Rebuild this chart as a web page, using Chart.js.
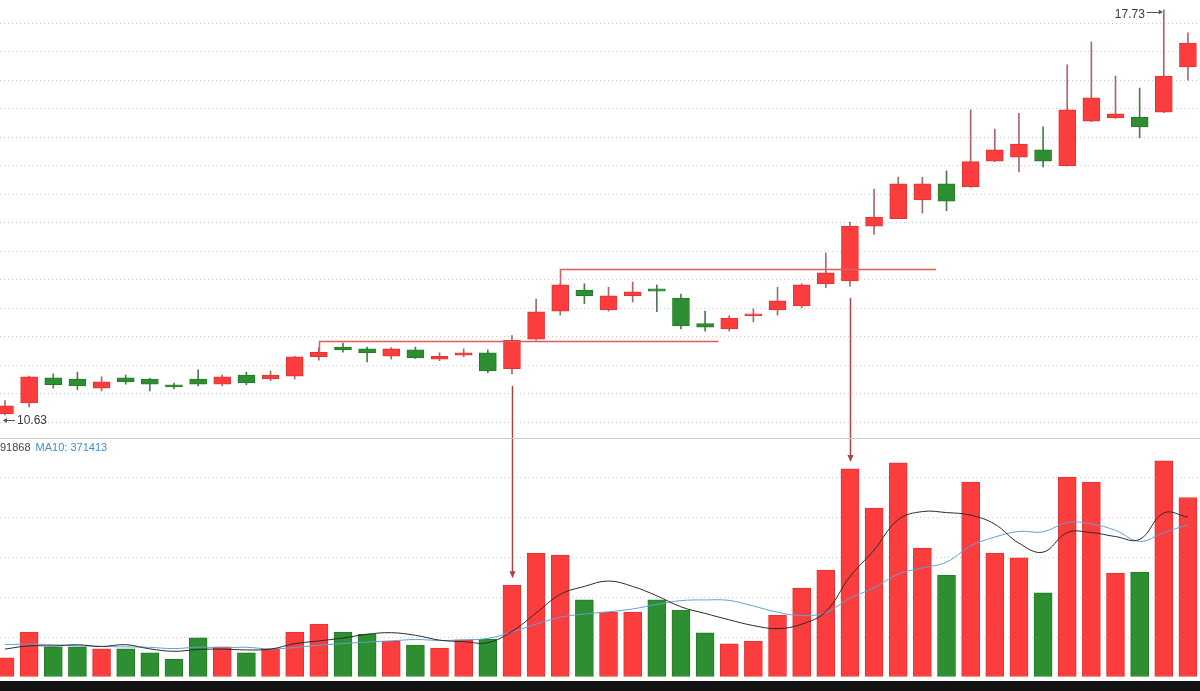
<!DOCTYPE html>
<html><head><meta charset="utf-8">
<script src="https://cdn.jsdelivr.net/npm/chart.js@4.4.1/dist/chart.umd.min.js"></script>
<style>
html,body{margin:0;padding:0;background:#fff;width:1200px;height:691px;overflow:hidden;font-family:"Liberation Sans",Arial,sans-serif;}
#wrap{position:relative;width:1200px;height:691px;overflow:hidden;}
#priceC{position:absolute;left:0;top:0;}
#volC{position:absolute;left:0;top:438px;}
#sep{position:absolute;left:0;top:438px;width:1200px;height:1px;background:#c9c9c9;}
#bottom{position:absolute;left:0;top:681px;width:1200px;height:10px;background:#121212;}
.lbl{position:absolute;font-size:12px;color:#3a3a3a;white-space:nowrap;line-height:12px;}
#maText{position:absolute;left:0;top:441px;font-size:11px;line-height:12px;white-space:nowrap;}
#maText .v5{color:#444;}
#maText .v10{color:#3d8fd1;margin-left:5px;}
</style></head>
<body>
<div id="wrap">
  <canvas id="priceC" width="1200" height="438"></canvas>
  <canvas id="volC" width="1200" height="239"></canvas>
  <div id="sep"></div>
  <div id="maText"><span class="v5" id="ma5Txt"></span><span class="v10" id="ma10Txt"></span></div>
  <span class="lbl" id="lowLbl"></span>
  <span class="lbl" id="highLbl"></span>
  <div id="bottom"></div>
</div>
<script>
// ---------- data ----------
const opens  = [10.65,10.84,11.28,11.26,11.10,11.28,11.26,11.16,11.26,11.17,11.33,11.26,11.31,11.65,11.82,11.79,11.66,11.77,11.61,11.68,11.72,11.44,11.96,12.45,12.82,12.47,12.72,12.84,12.68,12.23,12.14,12.37,12.47,12.54,12.93,12.98,13.94,14.07,14.40,14.68,14.63,15.08,15.15,15.28,15.00,15.78,15.84,15.85,15.94,16.73];
const highs  = [10.88,11.31,11.35,11.38,11.30,11.33,11.27,11.19,11.42,11.33,11.38,11.40,11.66,11.81,11.89,11.82,11.81,11.82,11.72,11.79,11.77,12.02,12.66,12.94,12.93,12.87,12.96,12.91,12.75,12.45,12.37,12.49,12.87,12.93,13.47,14.01,14.59,14.80,14.80,14.91,15.98,15.64,15.92,15.68,16.77,17.17,16.57,16.36,17.73,17.33];
const lows   = [10.63,10.77,11.10,11.07,11.05,11.17,11.05,11.09,11.14,11.14,11.16,11.23,11.26,11.59,11.73,11.56,11.61,11.62,11.58,11.65,11.37,11.35,11.94,12.38,12.58,12.45,12.61,12.44,12.14,12.10,12.10,12.26,12.38,12.51,12.86,12.89,13.80,14.07,14.17,14.21,14.62,15.07,14.89,14.98,14.99,15.77,15.83,15.49,15.93,16.50];
const closes = [10.79,11.30,11.16,11.14,11.21,11.21,11.17,11.12,11.17,11.30,11.19,11.33,11.65,11.73,11.77,11.72,11.79,11.63,11.66,11.72,11.40,11.94,12.44,12.91,12.72,12.72,12.79,12.80,12.19,12.17,12.33,12.40,12.63,12.91,13.12,13.94,14.10,14.68,14.68,14.38,15.07,15.28,15.38,15.08,15.98,16.19,15.91,15.68,16.57,17.15];
const volumes = [47000,110000,74000,74000,69000,69000,59000,44000,96000,74000,59000,69000,110000,130000,110000,105000,88000,78000,71000,91000,93000,225000,304000,299000,189000,159000,159000,189000,164000,108000,81000,88000,152000,218000,262000,510000,414000,525000,316000,250000,478000,304000,292000,206000,490000,478000,255000,257000,530000,440000];
// volumes of the bars just before the visible window (estimated from the MA lines at the left edge)
const prevVolumes = [95000,90000,100000,85000,80000,70000,75000,60000,90000];
const ma5Label = "91868";
const ma10Label = "MA10: 371413";
// annotation lines (breakout levels) and arrows
const levelStart = [13, 23];
const levelEnd   = [29.55, 38.57];
const levelPrice = [11.93, 13.19];
const arrowIdx   = [21, 35];

// ---------- helpers ----------
const N = opens.length;
const idx = [...Array(N).keys()];
const isUp = i => closes[i] >= opens[i];
const RED='#fb3d3d', RED_B='#e03434', GREEN='#2e8f32', GREEN_B='#247a27';
const WICK_R='#a56a6e', WICK_G='#4d7a4f';
function movingAvg(vals, prev, n){
  const all = prev.concat(vals);
  return vals.map((_,i)=>{ const end=prev.length+i; let s=0; for(let k=end-n+1;k<=end;k++) s+=all[k]; return s/n; });
}
const ma5 = movingAvg(volumes, prevVolumes, 5);
const ma10 = movingAvg(volumes, prevVolumes, 10);

const X_MIN = -0.207, X_MAX = 49.5;
const xScale = {type:'linear', min:X_MIN, max:X_MAX, offset:false, display:false, grid:{offset:false}};

function arrowLine(ctx, x, y0, y1){
  ctx.beginPath(); ctx.moveTo(x,y0); ctx.lineTo(x,y1); ctx.stroke();
}

const priceAnnot = {
  id:'priceAnnot',
  afterDatasetsDraw(chart){
    const {ctx, scales:{x,y}} = chart;
    ctx.save();
    ctx.strokeStyle='#e35a5a'; ctx.lineWidth=1.5;
    for(let k=0;k<levelPrice.length;k++){
      const i=levelStart[k];
      const x0=Math.round(x.getPixelForValue(i))+0.5;
      const yTop=y.getPixelForValue(Math.max(opens[i],closes[i]));
      const yl=Math.round(y.getPixelForValue(levelPrice[k]))+0.5;
      const x1=x.getPixelForValue(levelEnd[k]);
      ctx.beginPath(); ctx.moveTo(x0,yTop); ctx.lineTo(x0,yl); ctx.lineTo(x1,yl); ctx.stroke();
    }
    ctx.strokeStyle='#a94545'; ctx.lineWidth=1.5;
    for(const i of arrowIdx){
      const xa=Math.round(x.getPixelForValue(i))+0.5;
      arrowLine(ctx, xa, y.getPixelForValue(lows[i])+12, chart.height);
    }
    // min / max markers
    let lo=0, hi=0;
    idx.forEach(i=>{ if(lows[i]<lows[lo]) lo=i; if(highs[i]>highs[hi]) hi=i; });
    const xl=x.getPixelForValue(lo), yl=y.getPixelForValue(lows[lo]);
    const xh=x.getPixelForValue(hi), yh=y.getPixelForValue(highs[hi]);
    ctx.strokeStyle='#555'; ctx.fillStyle='#555'; ctx.lineWidth=1;
    // low arrow pointing left
    const ly=Math.round(yl+5)+0.5;
    ctx.beginPath(); ctx.moveTo(xl+10,ly); ctx.lineTo(xl-1,ly); ctx.stroke();
    ctx.beginPath(); ctx.moveTo(xl-2,ly); ctx.lineTo(xl+2,ly-2.5); ctx.lineTo(xl+2,ly+2.5); ctx.closePath(); ctx.fill();
    // high arrow pointing right
    const hy=Math.round(yh+2)+0.5;
    ctx.beginPath(); ctx.moveTo(xh-17,hy); ctx.lineTo(xh-3,hy); ctx.stroke();
    ctx.beginPath(); ctx.moveTo(xh-1,hy-0.5); ctx.lineTo(xh-5,hy-3); ctx.lineTo(xh-5,hy+2); ctx.closePath(); ctx.fill();
    ctx.restore();
    const lowEl=document.getElementById('lowLbl');
    lowEl.textContent=lows[lo].toFixed(2);
    lowEl.style.left=(xl+12)+'px'; lowEl.style.top=(yl-1)+'px';
    const highEl=document.getElementById('highLbl');
    highEl.textContent=highs[hi].toFixed(2);
    highEl.style.left=(xh-19-highEl.offsetWidth)+'px'; highEl.style.top=(yh-2)+'px';
  }
};

const volAnnot = {
  id:'volAnnot',
  afterDatasetsDraw(chart){
    const {ctx, scales:{x,y}} = chart;
    ctx.save();
    ctx.strokeStyle='#a94545'; ctx.fillStyle='#a94545'; ctx.lineWidth=1.5;
    for(const i of arrowIdx){
      const xa=Math.round(x.getPixelForValue(i))+0.5;
      const yb=y.getPixelForValue(volumes[i])-7;
      arrowLine(ctx, xa, 0, yb-5);
      ctx.beginPath(); ctx.moveTo(xa,yb); ctx.lineTo(xa-3,yb-7); ctx.lineTo(xa+3,yb-7); ctx.closePath(); ctx.fill();
    }
    ctx.restore();
  }
};

const commonOpts = {
  responsive:false, devicePixelRatio:1, animation:false, events:[],
  layout:{padding:0},
  plugins:{legend:{display:false}, tooltip:{enabled:false}},
};

new Chart(document.getElementById('priceC'), {
  type:'bar',
  data:{datasets:[
    {label:'wick', data:idx.map(i=>({x:i,y:[lows[i],highs[i]]})),
     backgroundColor:idx.map(i=>isUp(i)?WICK_R:WICK_G), barThickness:1, grouped:false, order:2},
    {label:'body', data:idx.map(i=>({x:i,y:[opens[i],closes[i]]})),
     backgroundColor:idx.map(i=>isUp(i)?RED:GREEN), borderColor:idx.map(i=>isUp(i)?RED_B:GREEN_B),
     borderWidth:1, borderSkipped:false, barThickness:17, minBarLength:2, grouped:false, order:1}
  ]},
  options:Object.assign({}, commonOpts, {
    scales:{
      x:xScale,
      y:{type:'linear', min:10.226, max:17.905, beginAtZero:false,
         ticks:{display:false, stepSize:0.5, includeBounds:false},
         grid:{color:'#cfcfcf', drawTicks:false, tickLength:0, lineWidth:1},
         border:{display:false, dash:[1,3]}}
    }
  }),
  plugins:[priceAnnot]
});

new Chart(document.getElementById('volC'), {
  type:'bar',
  data:{datasets:[
    {type:'line', label:'MA5', data:idx.map(i=>({x:i,y:ma5[i]})), borderColor:'#2b2b2b', borderWidth:1, pointRadius:0, tension:0.4, order:0},
    {type:'line', label:'MA10', data:idx.map(i=>({x:i,y:ma10[i]})), borderColor:'#5ea2d6', borderWidth:1, pointRadius:0, tension:0.4, order:1},
    {label:'VOL', data:idx.map(i=>({x:i,y:volumes[i]})),
     backgroundColor:idx.map(i=>isUp(i)?RED:GREEN), borderColor:idx.map(i=>isUp(i)?RED_B:GREEN_B),
     borderWidth:1, borderSkipped:false, barThickness:18, grouped:false, order:2}
  ]},
  options:Object.assign({}, commonOpts, {
    scales:{
      x:xScale,
      y:{type:'linear', min:0, max:585784, beginAtZero:true,
         ticks:{display:false, stepSize:100000, includeBounds:false},
         grid:{color:'#cfcfcf', drawTicks:false, tickLength:0, lineWidth:1},
         border:{display:false, dash:[1,3]}}
    }
  }),
  plugins:[volAnnot]
});

document.getElementById('ma5Txt').textContent = ma5Label;
document.getElementById('ma10Txt').textContent = ma10Label;
</script>
</body></html>
